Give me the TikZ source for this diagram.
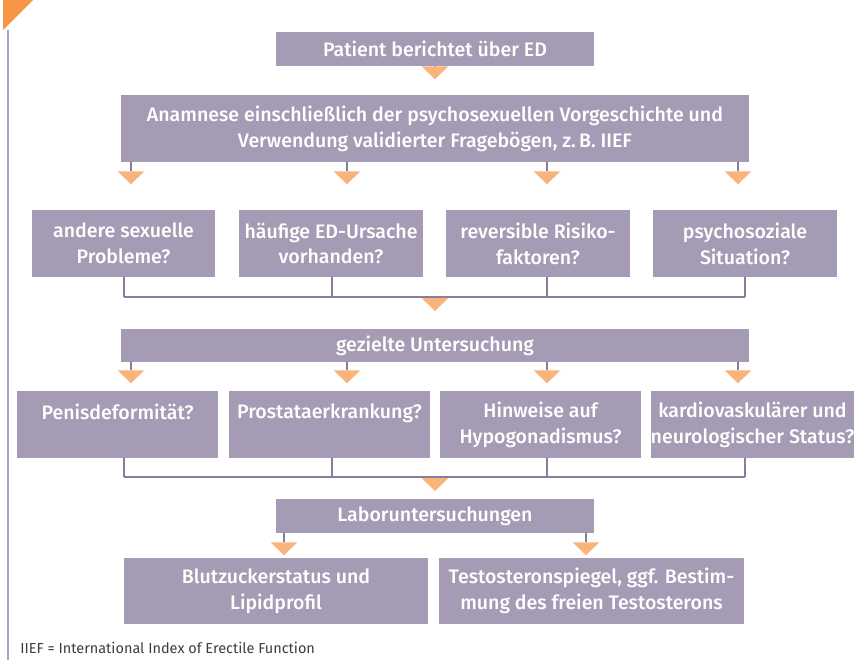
\documentclass[tikz,border=0pt]{standalone}
\usepackage{fontspec}
\setmainfont{Fira Sans}
\newfontfamily\boxfont{Fira Sans Medium}
\usetikzlibrary{arrows.meta}
\definecolor{boxlila}{RGB}{166,155,181}
\definecolor{linelila}{RGB}{138,124,156}
\definecolor{tipgold}{RGB}{249,180,124}
\definecolor{cornerorange}{RGB}{244,150,68}
\definecolor{notegray}{RGB}{60,60,60}

\begin{document}
\begin{tikzpicture}[
    x=0.025cm, y=-0.025cm,
    box/.style={fill=boxlila,text=white,align=center,inner sep=0pt,
        font=\boxfont\fontsize{13.9}{18.4}\selectfont},
    wide/.style={box,minimum width=15.7cm},
    mid/.style={box,minimum width=7.95cm,minimum height=0.85cm},
    ask/.style={box,minimum width=4.575cm,minimum height=1.675cm},
    check/.style={box,minimum width=5.025cm,minimum height=1.675cm},
    lab/.style={box,minimum width=7.6cm,minimum height=1.65cm},
    link/.style={draw=linelila,line width=1.4pt},
    flow/.style={link,-{Triangle[width=19pt,length=9.2pt,color=tipgold,line width=0pt]}},
    note/.style={font=\fontsize{10.3}{12}\selectfont,text=notegray,inner sep=0pt}
]
\useasboundingbox (0,0) rectangle (858,660);

% page edge
\fill[cornerorange] (3,0) -- (33,0) -- (3,30) -- cycle;
\draw[linelila!70,line width=1pt] (8,30) -- (8,660);

\node[mid] (pat) at (435,49) {Patient berichtet über ED};
\node[wide,minimum height=1.675cm] (anam) at (435,128.5)
    {Anamnese einschließlich der psychosexuellen Vorgeschichte und\\
     Verwendung validierter Fragebögen, z.\,B. IIEF};
\draw[flow] (pat.south) -- ++(0,13);
\foreach \x in {131,347,547,738}
    \draw[flow] (anam.south -| \x,0) -- ++(0,22);

\node[ask] (r1a) at (123.5,243.5) {andere sexuelle\\Probleme?};
\node[ask] (r1b) at (331,243.5) {häufige ED-Ursache\\vorhanden?};
\node[ask] (r1c) at (538,243.5) {reversible Risiko-\\faktoren?};
\node[ask] (r1d) at (745,243.5) {psychosoziale\\Situation?};
\coordinate (j1) at (435,297);
\foreach \n/\x in {r1a/124,r1b/332,r1c/547,r1d/745}
    \draw[link] (\n.south -| \x,0) -- (j1 -| \x,0);
\draw[link] (j1 -| 124,0) -- (j1 -| 745,0);
\draw[flow] (j1) -- ++(0,14);

\node[wide,minimum height=0.825cm] (unt) at (435,345.5) {gezielte Untersuchung};
\foreach \x in {131,347,547,738}
    \draw[flow] (unt.south -| \x,0) -- ++(0,21);

\node[check] (r2a) at (117.5,424.5) {Penisdeformität?\\~};
\node[check] (r2b) at (329.5,424.5) {Prostataerkrankung?\\~};
\node[check] (r2c) at (540.5,424.5) {Hinweise auf\\Hypogonadismus?};
\node[check] (r2d) at (752.5,424.5) {kardiovaskulärer und\\neurologischer Status?};
\coordinate (j2) at (435,477);
\foreach \n/\x in {r2a/124,r2b/332,r2c/547,r2d/745}
    \draw[link] (\n.south -| \x,0) -- (j2 -| \x,0);
\draw[link] (j2 -| 124,0) -- (j2 -| 745,0);
\draw[flow] (j2) -- ++(0,14);

\node[mid] (labor) at (435,516) {Laboruntersuchungen};
\node[lab] (bz) at (276,591) {Blutzuckerstatus und\\Lipidprofil};
\node[lab] (tst) at (591.5,591) {Testosteronspiegel, ggf. Bestim-\\mung des freien Testosterons};
\draw[flow] (labor.south -| 284,0) -- ++(0,22);
\draw[flow] (labor.south -| 586,0) -- ++(0,22);

\node[note,anchor=west] (iief) at (20,648) {IIEF = International Index of Erectile Function};
\end{tikzpicture}
\end{document}
